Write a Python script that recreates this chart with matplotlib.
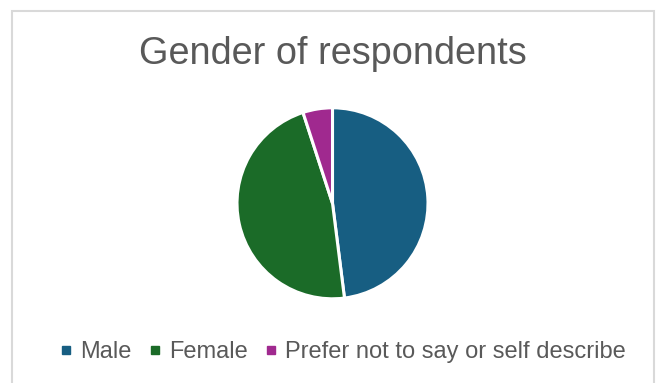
import matplotlib
matplotlib.use("Agg")
import matplotlib.pyplot as plt
from matplotlib.patches import Rectangle
from matplotlib.lines import Line2D

categories = ["Male", "Female", "Prefer not to say or self describe"]
values = [48, 47, 5]
colors = ["#175E82", "#1B6B28", "#A0298F"]
title = "Gender of respondents"

plt.rcParams['font.family'] = ['Liberation Sans', 'DejaVu Sans']

W, H = 658, 383
fig = plt.figure(figsize=(W/100, H/100), dpi=100)
fig.patch.set_facecolor("white")

# chart border
fig.add_artist(Rectangle((12/W, -0.05), (654-12)/W, (H-11)/H + 0.05,
                         transform=fig.transFigure, fill=False,
                         edgecolor="#D9D9D9", linewidth=1.5))

cx, cy, r = 332.5, 203.3, 95.5
ax = fig.add_axes([(cx - r)/W, (H - cy - r)/H, 2*r/W, 2*r/H])
ax.pie(values, colors=colors, startangle=90, counterclock=False, radius=1,
       wedgeprops=dict(edgecolor="white", linewidth=2.2))
ax.set_xlim(-1, 1)
ax.set_ylim(-1, 1)
ax.set_aspect("equal")
ax.axis("off")

fig.text(cx/W, 1 - 54/H, title, ha="center", va="center",
         fontsize=27.3, color="#595959")

handles = [Line2D([], [], marker="s", linestyle="none", markersize=6,
                  markerfacecolor=c, markeredgecolor=c) for c in colors]
fig.legend(handles, categories, loc="center", bbox_to_anchor=(340/W, 1 - 352/H),
           ncol=3, frameon=False, fontsize=17, labelcolor="#595959",
           handletextpad=0.1, columnspacing=0.5, handlelength=1.0)

fig.savefig("out.png", dpi=100)
